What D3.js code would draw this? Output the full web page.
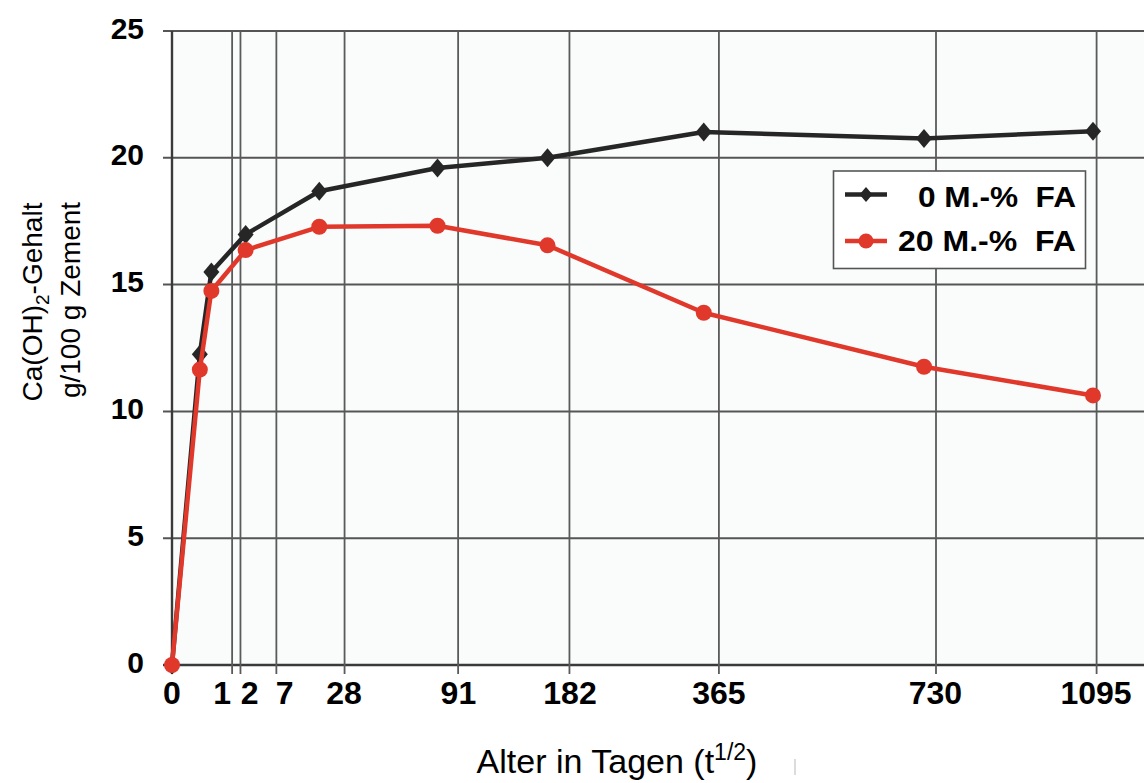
<!DOCTYPE html>
<html>
<head>
<meta charset="utf-8">
<script src="https://cdn.jsdelivr.net/npm/d3@7"></script>
<style>
  body { margin: 0; background: #fff; }
  text { font-family: "Liberation Sans", Arial, sans-serif; }
</style>
</head>
<body>
<svg id="chart"></svg>
<script>
// Alter in Tagen (sampling days)
const days = [0, 1, 2, 7, 28, 91, 182, 365, 730, 1095];
// Ca(OH)2 content, g/100 g cement
const fa0 = [0, 12.25, 15.5, 16.98, 18.68, 19.6, 20.0, 21.02, 20.76, 21.05];
const fa20 = [0, 11.65, 14.75, 16.36, 17.28, 17.32, 16.55, 13.89, 11.76, 10.63];
const seriesNames = ["0 M.-%  FA", "20 M.-%  FA"];

const yTicks = [0, 5, 10, 15, 20, 25];
// x axis runs in t^1/2; the printed labels and grid sit a bit apart from exact roots
const xTickLabels = ["0", "1", "2", "7", "28", "91", "182", "365", "730", "1095"];
const xLabelAt = [0, 1.8, 2.79, 4.05, 6.18, 10.29, 14.3, 19.65, 27.43, 33.2];
const xGridAt = [0, 2.16, 2.46, 3.75, 6.2, 10.28, 14.28, 19.65, 27.45, 33.22];

const W = 1144, H = 783;
const margin = {left: 172, top: 31, bottom: 118};
const iw = 921, ih = H - margin.top - margin.bottom;

const svg = d3.select("#chart").attr("width", W).attr("height", H);
const g = svg.append("g").attr("transform", `translate(${margin.left},${margin.top})`);

const x = d3.scaleLinear().domain([0, Math.sqrt(1095)]).range([0, iw]);
const y = d3.scaleLinear().domain([0, 25]).range([ih, 0]);

// plot background
g.append("rect")
  .attr("width", W - margin.left).attr("height", ih)
  .attr("fill", "#fafcfc");

// horizontal grid with small stubs left of the axis
g.selectAll("line.hgrid")
  .data(yTicks)
  .enter()
  .append("line")
  .attr("class", "hgrid")
  .attr("x1", -9).attr("x2", W - margin.left)
  .attr("y1", d => y(d)).attr("y2", d => y(d))
  .attr("stroke", d => d === 0 ? "#3a3a3a" : "#555")
  .attr("stroke-width", d => d === 0 ? 2.6 : 2);

// vertical grid, running below the axis
g.selectAll("line.vgrid")
  .data(xGridAt)
  .enter()
  .append("line")
  .attr("class", "vgrid")
  .attr("x1", d => x(d)).attr("x2", d => x(d))
  .attr("y1", 0).attr("y2", ih + 9)
  .attr("stroke", (d, i) => i === 0 ? "#3a3a3a" : "#5a5a5a")
  .attr("stroke-width", (d, i) => i === 0 ? 2.4 : 1.8);

// y tick labels
g.selectAll("text.ytick")
  .data(yTicks)
  .enter()
  .append("text")
  .attr("class", "ytick")
  .attr("x", -28)
  .attr("y", d => y(d) + 7.5)
  .attr("text-anchor", "end")
  .style("font-size", "30px")
  .style("font-weight", "bold")
  .text(d => d);

// x tick labels
g.selectAll("text.xtick")
  .data(xTickLabels)
  .enter()
  .append("text")
  .attr("class", "xtick")
  .attr("x", (d, i) => x(xLabelAt[i]))
  .attr("y", ih + 38.5)
  .attr("text-anchor", "middle")
  .style("font-size", "32px")
  .style("font-weight", "bold")
  .text(d => d);

// series
const series = [
  {name: seriesNames[0], values: fa0, color: "#262626", marker: "diamond"},
  {name: seriesNames[1], values: fa20, color: "#e0382b", marker: "circle"}
];

const line = d3.line()
  .x(d => x(Math.sqrt(d.day)))
  .y(d => y(d.v));

const diamond = (hw, hh) => `M0,${-hh} L${hw},0 L0,${hh} L${-hw},0 Z`;

series.forEach(s => {
  const pts = days.map((day, i) => ({day: day, v: s.values[i]}));
  g.append("path")
    .datum(pts)
    .attr("d", line)
    .attr("fill", "none")
    .attr("stroke", s.color)
    .attr("stroke-width", 4.5)
    .attr("stroke-linejoin", "round");

  const mk = g.selectAll(null)
    .data(pts)
    .enter()
    .append("g")
    .attr("transform", d => `translate(${x(Math.sqrt(d.day))},${y(d.v)})`);
  if (s.marker === "diamond") {
    mk.append("path").attr("d", diamond(8, 9.5)).attr("fill", s.color);
  } else {
    mk.append("circle").attr("r", 8).attr("fill", s.color);
  }
});

// legend
const lg = svg.append("g");
lg.append("rect")
  .attr("x", 833.5).attr("y", 171)
  .attr("width", 252).attr("height", 97.5)
  .attr("fill", "#fff")
  .attr("stroke", "#555")
  .attr("stroke-width", 1.6);

const legendRows = lg.selectAll("g.row")
  .data(series)
  .enter()
  .append("g")
  .attr("class", "row")
  .attr("transform", (d, i) => `translate(0,${i === 0 ? 194.5 : 241})`);

legendRows.append("line")
  .attr("x1", 845).attr("x2", 887)
  .attr("stroke", d => d.color)
  .attr("stroke-width", 4.5);

legendRows.each(function(d) {
  const r = d3.select(this);
  if (d.marker === "diamond") {
    r.append("path").attr("d", diamond(6.5, 7.5)).attr("transform", "translate(866,0)").attr("fill", d.color);
  } else {
    r.append("circle").attr("cx", 866).attr("r", 7.5).attr("fill", d.color);
  }
});

legendRows.append("text")
  .attr("x", 1076)
  .attr("y", (d, i) => i === 0 ? 12.5 : 10)
  .attr("text-anchor", "end")
  .style("white-space", "pre")
  .style("font-size", "30px")
  .style("font-weight", "bold")
  .attr("textLength", (d, i) => i === 0 ? 158 : 178)
  .attr("lengthAdjust", "spacingAndGlyphs")
  .text(d => d.name);

// y axis title (two lines)
const yt1 = svg.append("text")
  .attr("transform", "translate(42,302) rotate(-90)")
  .attr("text-anchor", "middle")
  .style("font-size", "28px");
yt1.append("tspan").text("Ca(OH)");
yt1.append("tspan").attr("dy", 7).style("font-size", "19px").text("2");
yt1.append("tspan").attr("dy", -7).text("-Gehalt");

svg.append("text")
  .attr("transform", "translate(80,300) rotate(-90)")
  .attr("text-anchor", "middle")
  .style("font-size", "28px")
  .text("g/100 g Zement");

// x axis title
const xt = svg.append("text")
  .attr("x", 617)
  .attr("y", 773)
  .attr("text-anchor", "middle")
  .style("font-size", "34px");
xt.append("tspan").text("Alter in Tagen (t");
xt.append("tspan").attr("dy", -13).style("font-size", "23px").text("1/2");
xt.append("tspan").attr("dy", 13).text(")");

// faint scan mark next to the title
svg.append("line")
  .attr("x1", 795).attr("x2", 795)
  .attr("y1", 759).attr("y2", 775)
  .attr("stroke", "#d0d0d0")
  .attr("stroke-width", 1.5);
</script>
</body>
</html>
